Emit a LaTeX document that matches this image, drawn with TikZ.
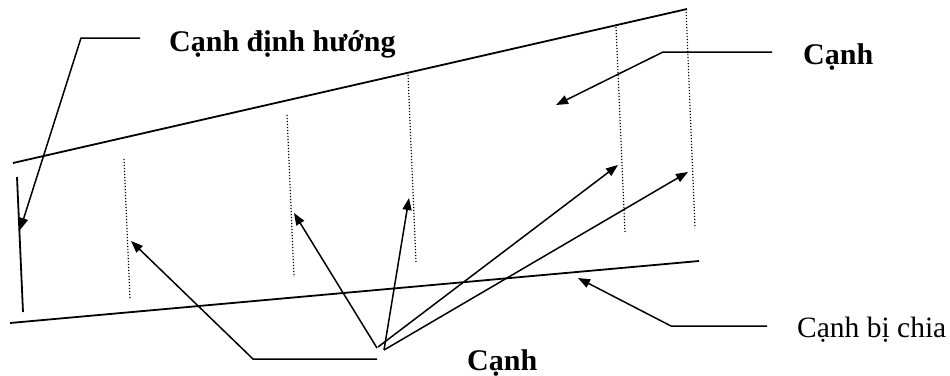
\documentclass[tikz,border=0pt]{standalone}
\usepackage{fontspec}
\setmainfont{Liberation Serif}
\usetikzlibrary{positioning,arrows.meta,calc}
\definecolor{InkBlack}{HTML}{000000}
\tikzset{
  every node/.style = {inner sep=0pt, text=InkBlack},
  edgeline/.style   = {line width=1.8pt, draw=InkBlack},
  cutline/.style    = {line width=1.2pt, draw=InkBlack,
                       dash pattern=on 1.2pt off 1.8pt},
  pointer/.style    = {line width=1.5pt, draw=InkBlack, line join=miter,
                       -{Triangle[length=12pt, width=9pt]}},
  boldlabel/.style  = {font=\fontsize{30}{34}\selectfont\bfseries,
                       anchor=base west},
  plainlabel/.style = {font=\fontsize{29.5}{34}\selectfont,
                       anchor=base west},
}

\begin{document}
\begin{tikzpicture}[x=1pt, y=-1pt]
\useasboundingbox (0,0) rectangle (950,375);

% =========================================================================
% Polygon edges
% =========================================================================
\coordinate (TopL) at (13, 163);
\coordinate (TopR) at (687, 9);
\coordinate (BotL) at (10, 323);
\coordinate (BotR) at (699, 261);
\coordinate (SideT) at (17, 177);
\coordinate (SideB) at (23, 312);

\draw[edgeline] (TopL) -- (TopR);
\draw[edgeline] (BotL) -- (BotR);
\draw[edgeline] (SideT) -- (SideB);

% --- Dotted cut lines -----------------------------------------------------
\foreach \i/\xa/\ya/\xb/\yb in {1/124/159/130/299, 2/287/115/294/277,
                                3/408/75/416/262,  4/616/27/625/233,
                                5/686/9/695/228}{
  \coordinate (cut\i a) at (\xa, \ya);
  \coordinate (cut\i b) at (\xb, \yb);
  \draw[cutline] (cut\i a) -- (cut\i b);
}

% =========================================================================
% Labels
% =========================================================================
\node[boldlabel]  (lblDir)   at (169, 51)  {Cạnh định hướng};
\node[boldlabel]  (lblEdge)  at (803, 64)  {Cạnh};
\node[plainlabel] (lblSplit) at (797, 337) {Cạnh bị chia};
\node[boldlabel]  (lblCut)   at (467, 370) {Cạnh};

% =========================================================================
% Leader corners and arrow targets
% =========================================================================
\coordinate (dirEnd)    at (140, 38);
\coordinate (dirBend)   at (81, 38);
\coordinate (dirTip)    at (20, 230);

\coordinate (edgeEnd)   at (772, 52);
\coordinate (edgeBend)  at (663, 52);
\coordinate (edgeTip)   at (556, 105);

\coordinate (splitEnd)  at (767, 326);
\coordinate (splitBend) at (671, 326);
\coordinate (splitTip)  at (578, 278);

\coordinate (cutEnd)    at (377, 359);
\coordinate (cutBend)   at (253, 359);
\coordinate (cutHub)    at (380, 348);

% =========================================================================
% Leaders
% =========================================================================
\draw[pointer] (dirEnd) -- (dirBend) -- (dirTip);
\draw[pointer] (edgeEnd) -- (edgeBend) -- (edgeTip);
\draw[pointer] (splitEnd) -- (splitBend) -- (splitTip);

\draw[pointer] (cutEnd) -- (cutBend) -- (131, 241);
\draw[pointer] (cutHub) ++(-3, 0) -- (294, 213);
\draw[pointer] (cutHub) ++(4, 2) -- (409, 198);
\draw[pointer] (cutHub) ++(-2, -1) -- (618, 165);
\draw[pointer] (cutHub) ++(4, 2) -- (688, 172);

\end{tikzpicture}
\end{document}
